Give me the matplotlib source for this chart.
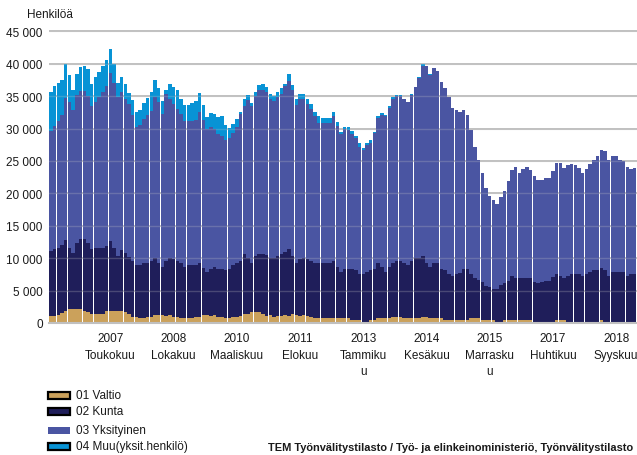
import numpy as np
import matplotlib
matplotlib.use('Agg')
import matplotlib.pyplot as plt
from matplotlib.patches import Rectangle

plt.rcParams['font.family'] = ['Liberation Sans', 'DejaVu Sans']

# monthly values, Jan 2006 .. Feb 2019
valtio = [1100, 1100, 1300, 1500, 1900, 2200, 2200, 2200, 2200, 1900, 1700, 1400,
          1400, 1400, 1400, 1800, 1900, 1900, 1900, 1900, 1700, 1400, 1000, 1000,
          700, 700, 1000, 1000, 1300, 1300, 1300, 1100, 1300, 1000, 1000, 700,
          700, 700, 700, 1000, 1000, 1300, 1300, 1100, 1300, 1000, 1000, 700,
          700, 1000, 1000, 1100, 1400, 1400, 1700, 1700, 1700, 1400, 1100, 1300,
          1000, 1100, 1100, 1300, 1100, 1400, 1300, 1100, 1300, 1100, 1000, 700,
          700, 700, 700, 700, 700, 700, 700, 700, 700, 400, 500, 400,
          200, 200, 500, 500, 700, 700, 700, 700, 1000, 1000, 1000, 700,
          700, 700, 700, 700, 1000, 1000, 700, 700, 700, 700, 500, 400,
          500, 400, 500, 400, 400, 700, 700, 700, 400, 500, 400, 400,
          200, 200, 400, 500, 500, 500, 400, 500, 400, 400, 200, 200,
          200, 200, 200, 200, 400, 500, 400, 200, 200, 200, 200, 200,
          200, 200, 200, 200, 500, 200, 200, 200, 200, 200, 200, 200,
          200, 200]
kunta = [10000, 10300, 10300, 10500, 10900, 9400, 8600, 10200, 10800, 11100, 10600, 10000,
         10200, 10200, 10200, 10100, 10800, 9600, 8500, 9300, 9100, 8800, 8600, 7900,
         8200, 8500, 8300, 8600, 8800, 8000, 7400, 8500, 8800, 8900, 8600, 8500,
         7900, 8200, 8200, 7900, 8300, 7200, 6500, 7200, 7400, 7400, 7400, 7400,
         7700, 7900, 8300, 8500, 9300, 8600, 7600, 8600, 8900, 9300, 9400, 8800,
         9100, 9300, 9600, 9600, 10300, 8900, 8000, 8800, 8800, 8800, 8600, 8500,
         8500, 8500, 8500, 8500, 8900, 8000, 7100, 7700, 7700, 8000, 7600, 7200,
         7400, 7600, 7600, 7900, 8500, 8000, 7100, 8000, 8300, 8600, 8600, 8500,
         8300, 8800, 9300, 9300, 9400, 8300, 8000, 8500, 8500, 7700, 7600, 7200,
         6800, 7200, 7200, 8000, 8000, 6900, 6200, 5900, 6000, 5200, 5200, 4900,
         5100, 5600, 5700, 6000, 6800, 6500, 6500, 6500, 6600, 6500, 6200, 5900,
         6200, 6300, 6300, 6900, 7200, 6800, 6500, 7100, 7400, 7400, 7400, 7100,
         7400, 7600, 7900, 7900, 8000, 7900, 7100, 7700, 7700, 7600, 7700, 7100,
         7400, 7400]
yksityinen = [18500, 19000, 19500, 20100, 21900, 22500, 22100, 22700, 22800, 22800, 22700, 22100,
              22500, 23300, 24100, 24700, 25900, 25600, 24500, 24500, 23700, 23600, 22500, 21300,
              21700, 22200, 22800, 23100, 24800, 24800, 23600, 25800, 24500, 23900, 23400, 23000,
              22500, 22200, 22200, 22400, 23300, 22800, 22100, 21900, 21300, 20800, 20400, 20200,
              20200, 20400, 21000, 22700, 22800, 24400, 24100, 24700, 25300, 25300, 25100, 24400,
              24100, 24500, 24700, 25600, 26000, 25600, 24400, 24700, 24500, 23900, 23400, 22800,
              21600, 21600, 21600, 21600, 22400, 21700, 21300, 21600, 21300, 20700, 20400, 19600,
              19100, 19700, 19700, 20900, 22400, 23400, 24100, 24400, 25300, 25400, 25400, 25300,
              25100, 25600, 26400, 27800, 29300, 30300, 29600, 30200, 29600, 28800, 28100, 27300,
              25800, 25200, 24900, 24400, 23700, 22200, 20200, 18500, 16700, 15100, 14000, 13600,
              13100, 13600, 14300, 15400, 16300, 17000, 16300, 16700, 17000, 16700, 16300, 15900,
              15600, 15900, 15900, 16300, 17100, 17400, 17000, 17100, 17000, 16700, 16300, 15900,
              16200, 16700, 17100, 17700, 18200, 18500, 17900, 17900, 17900, 17400, 17100, 16700,
              16200, 16300]
muu = [6000, 6100, 6000, 5400, 5200, 4200, 3100, 3300, 3700, 3900, 4200, 3300,
       3900, 3800, 3900, 3900, 3700, 2900, 2200, 2300, 2300, 1700, 2300, 2300,
       2300, 2600, 2600, 2900, 2600, 2200, 1900, 600, 2300, 2600, 2900, 2300,
       2600, 2600, 2900, 2900, 2900, 2300, 1900, 2200, 2300, 2600, 3100, 2300,
       1500, 1400, 1100, 300, 1100, 800, 600, 600, 800, 800, 800, 800,
       800, 800, 800, 400, 1000, 800, 800, 800, 800, 800, 800, 600,
       1100, 800, 800, 800, 600, 600, 300, 200, 500, 500, 300, 600,
       300, 300, 500, 100, 300, 300, 200, 300, 200, 200, 200, 0,
       0, 200, 0, 200, 200, 100, 100, 0, 0, 0, 0, 0,
       0, 0, 0, 0, 0, 0, 0, 0, 0, 0, 0, 0,
       0, 0, 0, 0, 0, 0, 0, 0, 0, 0, 0, 0,
       0, 0, 0, 0, 0, 0, 0, 0, 0, 0, 0, 0,
       0, 0, 0, 0, 0, 0, 0, 0, 0, 0, 0, 0,
       0, 0]

series_names = ['01 Valtio', '02 Kunta', '03 Yksityinen', '04 Muu(yksit.henkilö)']
colors = ['#CBA15B', '#1F1E5A', '#4A55A2', '#0893D5']

# month index (0 = Jan 2006) and the label shown under it
tick_idx = [16, 33, 50, 67, 84, 101, 118, 135, 152]
tick_labels = ['2007\nToukokuu', '2008\nLokakuu', '2010\nMaaliskuu', '2011\nElokuu',
               '2013\nTammiku\nu', '2014\nKesäkuu', '2015\nMarrasku\nu',
               '2017\nHuhtikuu', '2018\nSyyskuu']
y_ticks = list(range(0, 45001, 5000))

W, H = 637, 456
fig = plt.figure(figsize=(W / 100, H / 100), dpi=100)
ax = fig.add_axes([49 / W, (H - 324) / H, 588 / W, (324 - 31) / H])

x = np.arange(len(valtio))
bottom = np.zeros(len(x))
for vals, c in zip([valtio, kunta, yksityinen, muu], colors):
    ax.bar(x, vals, width=0.93, bottom=bottom, color=c, linewidth=0,
           antialiased=False, zorder=2)
    bottom += np.array(vals)

# grid lines: solid behind, faint on top (they show through the bars)
for yv in y_ticks[1:]:
    ax.axhline(yv, color='#C0C0C0', lw=1.4, zorder=1)
    ax.axhline(yv, color='#C8C8C8', lw=1.0, alpha=0.25, zorder=3)

ax.set_xlim(-0.5, len(x) - 0.4)
ax.set_ylim(0, 45200)
ax.set_yticks(y_ticks)
ax.set_yticklabels([f'{v:,}'.replace(',', ' ') for v in y_ticks])
ax.set_xticks(tick_idx)
ax.set_xticklabels(tick_labels, linespacing=1.5)
ax.tick_params(axis='both', length=0, labelsize=8.5, colors='#1a1a1a')
ax.tick_params(axis='y', pad=4.5)
ax.tick_params(axis='x', pad=6.5)

for s in ['top', 'right', 'left']:
    ax.spines[s].set_visible(False)
ax.spines['bottom'].set_color('#C0C0C0')
ax.spines['bottom'].set_linewidth(1.5)
ax.spines['bottom'].set_zorder(3)

fig.text(27 / W, 1 - 15 / H, 'Henkilöä', fontsize=8.5, va='center', ha='left',
         color='#1a1a1a')

# legend
legend_y = [396.5, 412.5, 431.5, 447.5]
for name, c, yc in zip(series_names, colors, legend_y):
    edge = 'none' if name.startswith('03') else 'black'
    fig.add_artist(Rectangle((48 / W, 1 - (yc + 3.5) / H), 22 / W, 7 / H,
                             transform=fig.transFigure, facecolor=c,
                             edgecolor=edge, linewidth=1.6))
    fig.text(76 / W, 1 - yc / H, name, fontsize=8.5, va='center', ha='left',
             color='#1a1a1a')

fig.text(633 / W, 1 - 448 / H,
         'TEM Työnvälitystilasto / Työ- ja elinkeinoministeriö, Työnvälitystilasto',
         fontsize=7.9, fontweight='bold', ha='right', va='center', color='#1a1a1a')

fig.savefig('out.png', dpi=100)
